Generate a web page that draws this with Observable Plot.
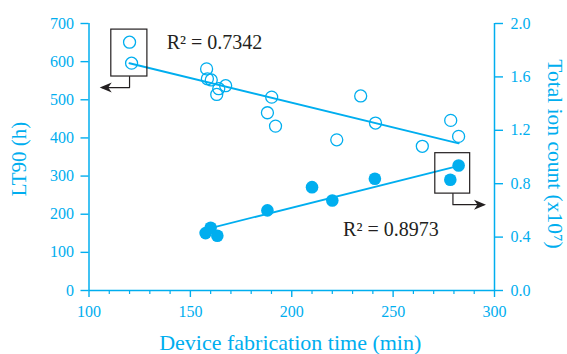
<!DOCTYPE html>
<html>
<head>
<meta charset="utf-8">
<script src="https://cdn.jsdelivr.net/npm/d3@7"></script>
<script src="https://cdn.jsdelivr.net/npm/@observablehq/plot@0.6"></script>
<style>
  html, body { margin: 0; padding: 0; background: #fff; }
</style>
</head>
<body>
<div id="chart"></div>
<script>
// ---- Data ----
// LT90 (h) vs device fabrication time (min) — open circles
const ltTime = [120, 121, 158, 158.4, 160.3, 164, 163, 167.4, 190.1, 188, 192, 222.2, 234, 241.3, 264.4, 278.4, 282.3];
const ltValue = [651, 596, 581, 555, 552, 529, 514, 537, 507, 466, 431, 395, 510, 439, 378, 446, 404];

// Total ion count (x10^7) vs device fabrication time (min) — filled circles
const ionTime = [157.5, 160, 163.3, 188, 210, 220, 241, 278.2, 282.3];
const ionValue = [0.43, 0.47, 0.41, 0.60, 0.774, 0.674, 0.837, 0.83, 0.936];

// Axis ticks
const xTicks = [100, 150, 200, 250, 300];
const xMinorTicks = d3.range(110, 300, 10).filter(d => d % 50 !== 0);
const leftTicks = [0, 100, 200, 300, 400, 500, 600, 700];
const rightTicks = [0, 0.4, 0.8, 1.2, 1.6, 2.0];

// Annotation labels
const r2Labels = ["R\u00B2 = 0.7342", "R\u00B2 = 0.8973"];
const r2X = [138.3, 225.3];
const r2Y = [650, 158.6];

// Annotation boxes (data units, LT90 scale) and elbow arrows
const boxX1 = [111, 270.8], boxX2 = [128.8, 288];
const boxY1 = [561, 254], boxY2 = [684, 360];
const arrow1 = [[120, 561], [120, 532], [106.5, 532]];
const arrow2 = [[279.5, 254], [279.5, 225], [294.5, 225]];
const arrowTipLeft = [[105.3, 532]];
const arrowTipRight = [[295.8, 225]];

// ---- Build tables ----
const ionScale = 350; // 2.0 (x10^7) ↔ 700 h
const lt = ltTime.map((t, i) => ({t, v: ltValue[i]}));
const ion = ionTime.map((t, i) => ({t, v: ionValue[i]}));
const boxes = boxX1.map((_, i) => ({x1: boxX1[i], x2: boxX2[i], y1: boxY1[i], y2: boxY2[i]}));
const arrows = [...arrow1.map(p => ({id: 1, x: p[0], y: p[1]})), ...arrow2.map(p => ({id: 2, x: p[0], y: p[1]}))];
const r2 = r2Labels.map((s, i) => ({s, x: r2X[i], y: r2Y[i]}));

const cyan = "#00aeef";
const ink = "#231f20";
const serif = "'Liberation Serif', 'Times New Roman', serif";

const stealthRight = {draw(ctx) { ctx.moveTo(0, 0); ctx.lineTo(-12, -5); ctx.lineTo(-8.5, 0); ctx.lineTo(-12, 5); ctx.closePath(); }};
const stealthLeft = {draw(ctx) { ctx.moveTo(0, 0); ctx.lineTo(12, -5); ctx.lineTo(8.5, 0); ctx.lineTo(12, 5); ctx.closePath(); }};

const chart = Plot.plot({
  width: 567,
  height: 354,
  marginLeft: 88.5,
  marginRight: 73,
  marginTop: 23,
  marginBottom: 64,
  x: {domain: [100, 300]},
  y: {domain: [0, 700]},
  style: {fontFamily: serif, fontSize: "16px", color: cyan, background: "#fff", overflow: "visible"},
  marks: [
    // axes
    Plot.axisX({ticks: xTicks, tickSize: 7, tickPadding: 8, label: null, strokeWidth: 1.4, fontSize: 16}),
    Plot.axisX({ticks: xMinorTicks, tickSize: 4, tickFormat: () => "", label: null, strokeWidth: 1.2}),
    Plot.axisY({anchor: "left", ticks: leftTicks, tickSize: 8, tickPadding: 7, label: null, strokeWidth: 1.4, fontSize: 16}),
    Plot.axisY({anchor: "right", ticks: rightTicks.map(d => d * ionScale), tickFormat: d => (d / ionScale).toFixed(1),
                tickSize: 8, tickPadding: 8, label: null, strokeWidth: 1.4, fontSize: 16}),
    Plot.ruleX([100, 300], {stroke: cyan, strokeWidth: 1.5}),
    Plot.ruleY([0], {stroke: cyan, strokeWidth: 1.5}),
    // axis titles
    Plot.text(["Device fabrication time (min)"], {text: d => d, frameAnchor: "bottom", textAnchor: "middle", lineAnchor: "middle",
              dy: 52.5, dx: -1.5, fontSize: 22, fill: cyan}),
    Plot.text(["LT90 (h)"], {text: d => d, frameAnchor: "left", textAnchor: "middle", lineAnchor: "middle",
              rotate: -90, dx: -69.5, dy: 2, fontSize: 21, fill: cyan}),
    Plot.text(["Total ion count (x10\u2077)"], {text: d => d, frameAnchor: "right", textAnchor: "middle", lineAnchor: "middle",
              rotate: 90, dx: 60, dy: -3, fontSize: 21.5, fill: cyan}),
    // LT90 series
    Plot.linearRegressionY(lt, {x: "t", y: "v", ci: 0, stroke: cyan, strokeWidth: 2}),
    Plot.dot(lt, {x: "t", y: "v", r: 6, stroke: cyan, strokeWidth: 1.3, fill: "none"}),
    // Ion count series
    Plot.linearRegressionY(ion, {x: "t", y: d => d.v * ionScale, ci: 0, stroke: cyan, strokeWidth: 1.8}),
    Plot.dot(ion, {x: "t", y: d => d.v * ionScale, r: 6.3, fill: cyan, stroke: "none"}),
    // annotations
    Plot.rect(boxes, {x1: "x1", x2: "x2", y1: "y1", y2: "y2", stroke: ink, strokeWidth: 1.2, fill: "none"}),
    Plot.line(arrows, {x: "x", y: "y", z: "id", stroke: ink, strokeWidth: 1.2}),
    Plot.dot(arrowTipLeft, {x: d => d[0], y: d => d[1], symbol: stealthLeft, fill: ink, stroke: "none"}),
    Plot.dot(arrowTipRight, {x: d => d[0], y: d => d[1], symbol: stealthRight, fill: ink, stroke: "none"}),
    Plot.text(r2, {x: "x", y: "y", text: "s", textAnchor: "start", lineAnchor: "middle", fontSize: 20, fill: ink})
  ]
});
document.getElementById("chart").appendChild(chart);
</script>
</body>
</html>
